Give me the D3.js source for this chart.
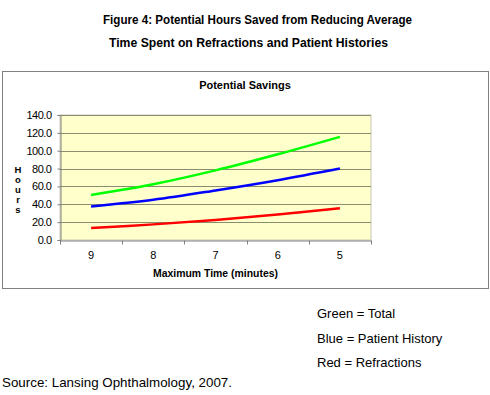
<!DOCTYPE html>
<html>
<head>
<meta charset="utf-8">
<script src="https://cdn.jsdelivr.net/npm/d3@7"></script>
<style>
  body { margin: 0; background: #fff; }
  svg { display: block; font-family: Arial, "Liberation Sans", sans-serif; }
</style>
</head>
<body>
<div id="chart"></div>
<script>
// values
const categories = ["9", "8", "7", "6", "5"];
const refractions = [13.5, 17.5, 22.5, 28.5, 35.5];
const patientHistory = [37.5, 45, 55.5, 67, 80];
const total = [50.5, 62.5, 78, 96, 115.5];
const yTicks = [0, 20, 40, 60, 80, 100, 120, 140];

const series = [
  { name: "Total", color: "#00ff00", values: total },
  { name: "Patient History", color: "#0000ff", values: patientHistory },
  { name: "Refractions", color: "#ff0000", values: refractions }
];

const width = 490, height = 395;
const plot = { left: 60, right: 371, top: 115, bottom: 240 };

const svg = d3.select("#chart").append("svg")
  .attr("width", width)
  .attr("height", height);

// figure title
const titleLines = [
  { text: "Figure 4: Potential Hours Saved from Reducing Average", x: 103, y: 24, len: 309 },
  { text: "Time Spent on Refractions and Patient Histories", x: 109, y: 47, len: 279 }
];
svg.selectAll("text.ftitle")
  .data(titleLines)
  .join("text")
  .attr("class", "ftitle")
  .attr("x", d => d.x)
  .attr("y", d => d.y)
  .attr("font-size", 13.5)
  .attr("font-weight", "bold")
  .attr("textLength", d => d.len)
  .attr("lengthAdjust", "spacingAndGlyphs")
  .text(d => d.text);

// chart box
svg.append("rect")
  .attr("x", 2.5).attr("y", 71.5)
  .attr("width", 486).attr("height", 217)
  .attr("fill", "#fff")
  .attr("stroke", "#808080");

svg.append("text")
  .attr("x", 245).attr("y", 89)
  .attr("text-anchor", "middle")
  .attr("font-size", 11)
  .attr("font-weight", "bold")
  .text("Potential Savings");

const x = d3.scaleBand().domain(categories).range([plot.left, plot.right]);
const y = d3.scaleLinear().domain([0, 140]).range([plot.bottom, plot.top]);

// plot area
svg.append("rect")
  .attr("x", plot.left).attr("y", plot.top)
  .attr("width", plot.right - plot.left).attr("height", plot.bottom - plot.top)
  .attr("fill", "#ffffcc")
  .attr("stroke", "#c8c8b4");

svg.append("g")
  .selectAll("line")
  .data(yTicks.filter(t => t > 0))
  .join("line")
  .attr("x1", plot.left).attr("x2", plot.right)
  .attr("y1", d => Math.round(y(d)) + 0.5).attr("y2", d => Math.round(y(d)) + 0.5)
  .attr("stroke", "#8c8c70");

// y axis
const yAxis = svg.append("g")
  .attr("transform", `translate(${plot.left + 0.5},0)`)
  .call(d3.axisLeft(y).tickValues(yTicks).tickSize(3).tickFormat(d3.format(".1f")));
yAxis.selectAll("path, line").attr("stroke", "#808080");
yAxis.selectAll("text").attr("font-size", 11).attr("fill", "#000").attr("x", -9)
  .attr("font-family", "Arial, 'Liberation Sans', sans-serif")
  .style("letter-spacing", "-0.5px");

// x axis
const xAxis = svg.append("g")
  .attr("transform", `translate(0,${plot.bottom + 0.5})`)
  .call(d3.axisBottom(x).tickSize(0).tickPadding(11));
xAxis.select("path").attr("stroke", "#808080");
xAxis.selectAll("text").attr("font-size", 11).attr("fill", "#000")
  .attr("font-family", "Arial, 'Liberation Sans', sans-serif");
xAxis.selectAll("line.bound")
  .data(d3.range(categories.length + 1))
  .join("line")
  .attr("class", "bound")
  .attr("x1", i => Math.round(plot.left + i * x.step()) + 0.5)
  .attr("x2", i => Math.round(plot.left + i * x.step()) + 0.5)
  .attr("y1", 0).attr("y2", 4)
  .attr("stroke", "#808080");

// axis titles
svg.append("text")
  .attr("x", 153).attr("y", 277)
  .attr("font-size", 11)
  .attr("font-weight", "bold")
  .attr("textLength", 125)
  .attr("lengthAdjust", "spacingAndGlyphs")
  .text("Maximum Time (minutes)");

svg.append("g")
  .selectAll("text")
  .data("Hours".split(""))
  .join("text")
  .attr("x", 18)
  .attr("y", (d, i) => 173 + i * 10)
  .attr("text-anchor", "middle")
  .attr("font-size", 9.5)
  .attr("font-weight", "bold")
  .text(d => d);

// lines
const line = d3.line()
  .x((d, i) => x(categories[i]) + x.bandwidth() / 2)
  .y(d => y(d))
  .curve(d3.curveCatmullRom.alpha(0.5));

svg.append("g")
  .selectAll("path")
  .data(series)
  .join("path")
  .attr("d", d => line(d.values))
  .attr("fill", "none")
  .attr("stroke", d => d.color)
  .attr("stroke-width", 2.5);

// notes below chart
const notes = ["Green = Total", "Blue = Patient History", "Red = Refractions"];
svg.append("g")
  .selectAll("text")
  .data(notes)
  .join("text")
  .attr("x", 317)
  .attr("y", (d, i) => 318 + i * 24.5)
  .attr("font-size", 13)
  .text(d => d);

svg.append("text")
  .attr("x", 2).attr("y", 387)
  .attr("font-size", 13)
  .attr("textLength", 230)
  .attr("lengthAdjust", "spacingAndGlyphs")
  .text("Source: Lansing Ophthalmology, 2007.");
</script>
</body>
</html>
